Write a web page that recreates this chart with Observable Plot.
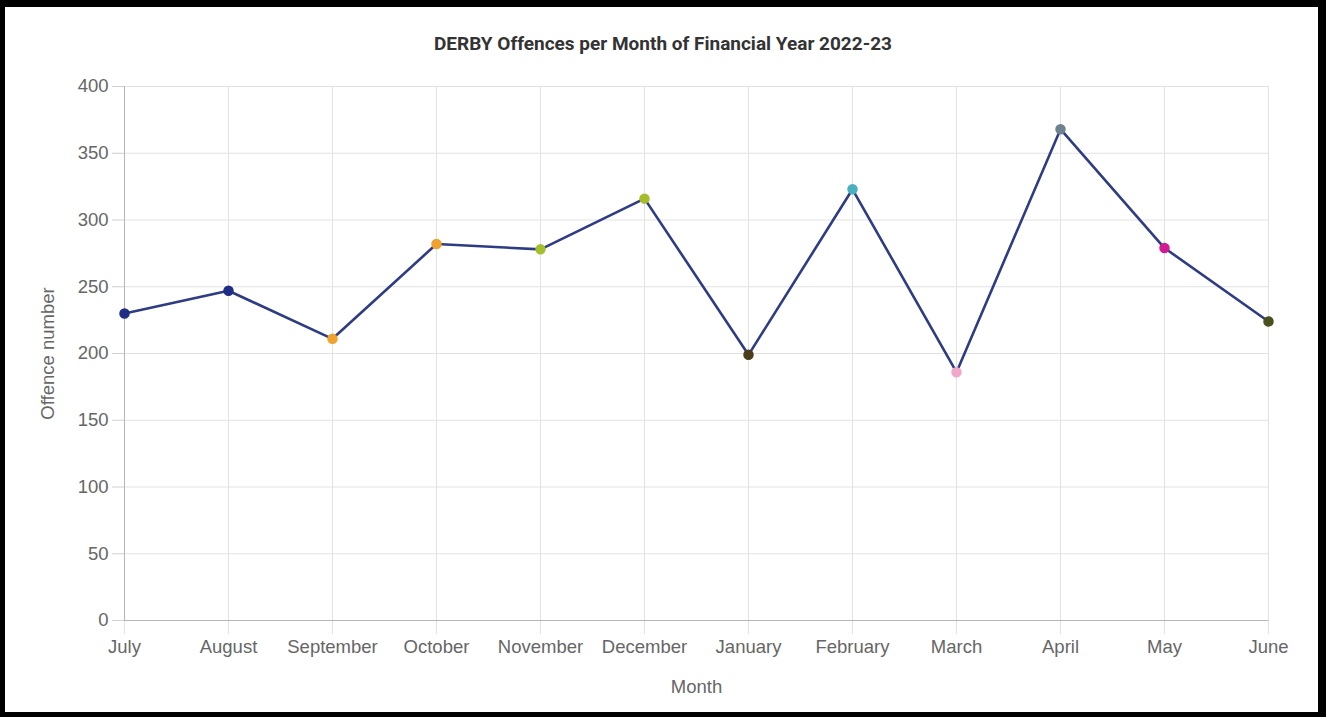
<!DOCTYPE html>
<html>
<head>
<meta charset="utf-8">
<script src="https://cdn.jsdelivr.net/npm/d3@7"></script>
<script src="https://cdn.jsdelivr.net/npm/@observablehq/plot@0.6"></script>
<style>
  html, body { margin: 0; padding: 0; background: #fff; }
  #frame { position: absolute; left: 0; top: 0; width: 1326px; height: 717px; box-sizing: border-box;
           border-style: solid; border-color: #000; border-width: 7px 8px 5px 5px; background: #fff; }
  #title { position: absolute; left: 0; top: 32px; width: 1326px; text-align: center;
           font-family: Roboto, "Liberation Sans", sans-serif; font-weight: bold; font-size: 19px; color: #333; }
  #chart { position: absolute; left: 0; top: 70px; }
</style>
</head>
<body>
<div id="frame"></div>
<div id="title">DERBY Offences per Month of Financial Year 2022-23</div>
<div id="chart"></div>
<script>
const months = ["July","August","September","October","November","December","January","February","March","April","May","June"];
const offences = [230, 247, 211, 282, 278, 316, 199, 323, 186, 368, 279, 224];
const pointColors = ["#1f2d86","#1f2d86","#f0a22e","#f0a22e","#a4bf2c","#a8bc2a","#4b3d1c","#4aafbf","#f2a7c8","#6e8290","#d41a91","#4b4f1f"];
const yTicks = [0,50,100,150,200,250,300,350,400];

const data = months.map((m, i) => ({month: m, value: offences[i], color: pointColors[i]}));

const plot = Plot.plot({
  width: 1326,
  height: 640,
  marginTop: 16,
  marginBottom: 90,
  marginLeft: 124,
  marginRight: 58,
  style: {fontFamily: "'Liberation Sans', Arial, sans-serif", fontSize: "18px", color: "#666", background: "transparent"},
  x: {type: "point", domain: months, padding: 0, label: null},
  y: {domain: [0, 400], label: null},
  marks: [
    Plot.gridY(yTicks, {stroke: "#e2e2e2", strokeOpacity: 1, strokeWidth: 1}),
    Plot.ruleX(months, {y1: 0, y2: 400, stroke: "#e2e2e2", strokeWidth: 1}),
    Plot.axisY(yTicks, {tickSize: 12, tickPadding: 4, stroke: "#d0d0d0", fill: "#666", fontSize: 18.5, label: null}),
    Plot.axisX(months, {tickSize: 14, tickPadding: 5, stroke: "#e2e2e2", fill: "#666", fontSize: 18.5, label: null}),
    Plot.ruleX([0], {x: () => months[0], y1: 0, y2: 400, stroke: "#b5b5b5"}),
    Plot.ruleY([0], {stroke: "#b5b5b5"}),
    Plot.line(data, {x: "month", y: "value", stroke: "#2e3b85", strokeWidth: 2.6}),
    Plot.dot(data, {x: "month", y: "value", r: 4.5, fill: "color", stroke: "color"}),
    Plot.text(["Month"], {frameAnchor: "bottom", dy: 72, fill: "#666", fontSize: 18.5}),
    Plot.text(["Offence number"], {frameAnchor: "left", dx: -76, rotate: -90, textAnchor: "middle", fill: "#666", fontSize: 18.5})
  ]
});
document.getElementById("chart").appendChild(plot);
</script>
</body>
</html>
